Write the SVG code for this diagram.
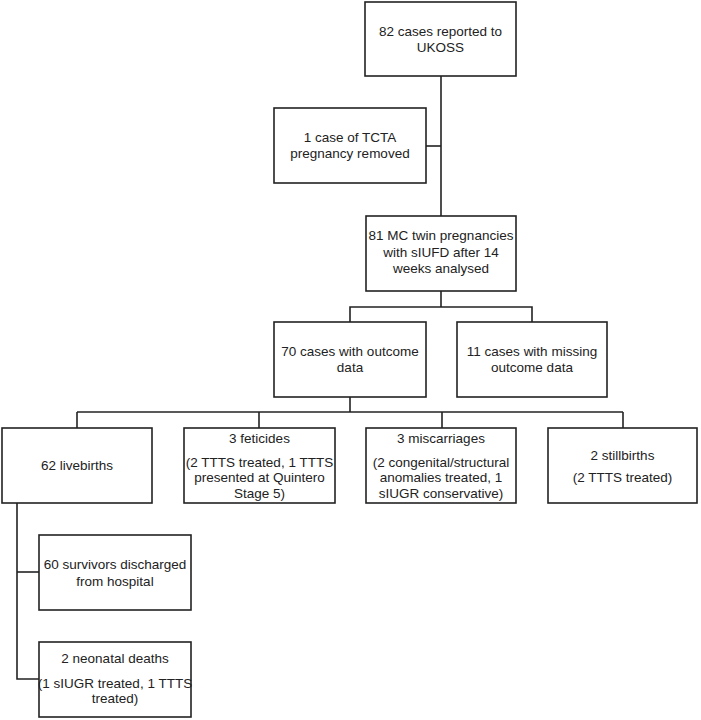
<svg xmlns="http://www.w3.org/2000/svg" width="701" height="720" viewBox="0 0 701 720">
<style>
rect{fill:#fff;stroke:#222;stroke-width:1.6}
.c line,.c polyline{stroke:#222;stroke-width:1.6;fill:none}
text{font-family:"Liberation Sans",Arial,sans-serif;font-size:13.5px;fill:#222;text-anchor:middle}
</style>
<rect x="0" y="0" width="701" height="720" style="stroke:none"/>
<g class="c" id="connectors">
<line x1="441" y1="76" x2="441" y2="216"/>
<line x1="426" y1="146" x2="441" y2="146"/>
<line x1="441" y1="291" x2="441" y2="307"/>
<polyline points="350,322 350,307 532,307 532,322"/>
<line x1="350" y1="397" x2="350" y2="412"/>
<line x1="77" y1="412" x2="623" y2="412"/>
<line x1="77" y1="412" x2="77" y2="428"/>
<line x1="259" y1="412" x2="259" y2="428"/>
<line x1="442" y1="412" x2="442" y2="428"/>
<line x1="623" y1="412" x2="623" y2="428"/>
<polyline points="17,503 17,679 39,679"/>
<line x1="17" y1="572" x2="39" y2="572"/>
</g>
<g id="n1"><rect x="365" y="2" width="151" height="74"/><text x="440.5" y="36">82 cases reported to</text><text x="440.5" y="52">UKOSS</text></g>
<g id="n2"><rect x="274" y="108" width="152" height="75"/><text x="350" y="142">1 case of TCTA</text><text x="350" y="158">pregnancy removed</text></g>
<g id="n3"><rect x="366" y="216" width="150" height="75"/><text x="441" y="240">81 MC twin pregnancies</text><text x="441" y="257">with sIUFD after 14</text><text x="441" y="273">weeks analysed</text></g>
<g id="n4"><rect x="274" y="322" width="152" height="75"/><text x="350" y="356">70 cases with outcome</text><text x="350" y="372">data</text></g>
<g id="n5"><rect x="457" y="322" width="150" height="75"/><text x="532" y="356">11 cases with missing</text><text x="532" y="372">outcome data</text></g>
<g id="n6"><rect x="2" y="428" width="150" height="75"/><text x="77" y="470">62 livebirths</text></g>
<g id="n7"><rect x="184" y="428" width="151" height="75"/><text x="259.5" y="443">3 feticides</text><text x="259.5" y="467">(2 TTTS treated, 1 TTTS</text><text x="259.5" y="482">presented at Quintero</text><text x="259.5" y="498">Stage 5)</text></g>
<g id="n8"><rect x="366" y="428" width="150" height="75"/><text x="441" y="443">3 miscarriages</text><text x="441" y="467">(2 congenital/structural</text><text x="441" y="482">anomalies treated, 1</text><text x="441" y="498">sIUGR conservative)</text></g>
<g id="n9"><rect x="548" y="428" width="149" height="75"/><text x="622.5" y="460">2 stillbirths</text><text x="622.5" y="482">(2 TTTS treated)</text></g>
<g id="n10"><rect x="39" y="535" width="152" height="75"/><text x="115" y="569">60 survivors discharged</text><text x="115" y="586">from hospital</text></g>
<g id="n11"><rect x="39" y="642" width="152" height="75"/><text x="115" y="663">2 neonatal deaths</text><text x="115" y="688">(1 sIUGR treated, 1 TTTS</text><text x="115" y="703">treated)</text></g>
</svg>
